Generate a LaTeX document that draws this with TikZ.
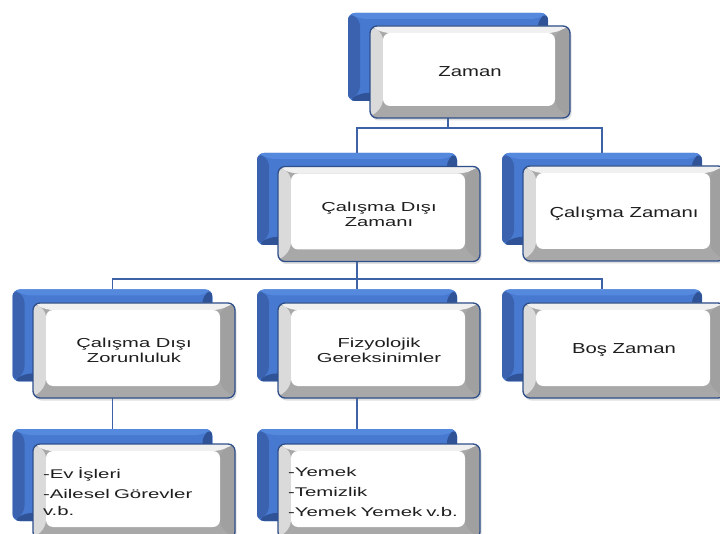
\documentclass[tikz,border=0pt]{standalone}
\usepackage{fontspec}
\setmainfont{Liberation Sans}
\newfontfamily\lblA[FakeStretch=1.4]{Liberation Sans}
\newfontfamily\lblB[FakeStretch=1.55]{Liberation Sans}
\newfontfamily\lblC[FakeStretch=1.62]{Liberation Sans}
\usetikzlibrary{backgrounds,calc,shadows}
\definecolor{bord}{HTML}{2F4F8A}
\definecolor{conncol}{HTML}{3D62A6}
\definecolor{bluemain}{HTML}{4779D0}
\definecolor{bluetop}{HTML}{5589DD}
\definecolor{blueleft}{HTML}{3A62AE}
\definecolor{bluedark}{HTML}{2F5396}
\definecolor{bevtop}{HTML}{F0F0F0}
\definecolor{bevleft}{HTML}{DADADA}
\definecolor{bevright}{HTML}{A0A0A0}
\definecolor{bevbot}{HTML}{A8A8A8}
\definecolor{txt}{HTML}{1E1E1E}
\tikzset{
  backbox/.style={rounded corners=7pt, fill=bluemain, minimum width=200pt,
    minimum height=92pt, inner sep=0pt, draw=none,
    path picture={
      \coordinate (sw) at (path picture bounding box.south west);
      \coordinate (ne) at (path picture bounding box.north east);
      \coordinate (nw) at (sw|-ne);
      \coordinate (se) at (ne|-sw);
      \fill[blueleft] (sw) -- (nw) -- ($(nw)+(12pt,-6pt)$) -- ($(sw)+(12pt,8pt)$) -- cycle;
      \fill[bluetop] (nw) -- (ne) -- ($(ne)+(-10pt,-6pt)$) -- ($(nw)+(12pt,-6pt)$) -- cycle;
      \fill[bluedark] (ne) -- (se) -- ($(se)+(-10pt,8pt)$) -- ($(ne)+(-10pt,-6pt)$) -- cycle;
      \fill[bluedark] (sw) -- (se) -- ($(se)+(-10pt,8pt)$) -- ($(sw)+(12pt,8pt)$) -- cycle;
    }},
  frontbox/.style={rounded corners=7pt, draw=bord, line width=1.3pt, fill=bevbot,
    minimum width=202pt, minimum height=95pt, inner sep=0pt, text=txt,
    drop shadow={shadow xshift=1.5pt, shadow yshift=-2.5pt, opacity=0.25},
    path picture={
      \coordinate (sw) at (path picture bounding box.south west);
      \coordinate (ne) at (path picture bounding box.north east);
      \coordinate (nw) at (sw|-ne);
      \coordinate (se) at (ne|-sw);
      \fill[bevleft] (sw) -- (nw) -- ($(nw)+(13pt,-7pt)$) -- ($(sw)+(13pt,12pt)$) -- cycle;
      \fill[bevtop] (nw) -- (ne) -- ($(ne)+(-15pt,-7pt)$) -- ($(nw)+(13pt,-7pt)$) -- cycle;
      \fill[bevright] (ne) -- (se) -- ($(se)+(-15pt,12pt)$) -- ($(ne)+(-15pt,-7pt)$) -- cycle;
      \fill[white] ($(sw)+(13pt,12pt)$) rectangle ($(ne)+(-15pt,-7pt)$);
    }},
  oneline/.style={font=\lblA\fontsize{14.5}{16}\selectfont},
  twoline/.style={font=\lblB\fontsize{13}{15}\selectfont, align=center},
  listtext/.style={font=\lblC\fontsize{12.6}{17}\selectfont, align=left, text width=182pt},
  conn/.style={draw=conncol, line width=1.8pt}
}
\begin{document}
\begin{tikzpicture}[x=1pt,y=-1pt]
\useasboundingbox (0,0) rectangle (720,534);
% back boxes
\node[backbox, minimum height=88pt] (zamanB) at (448,57) {};
\node[backbox] (cdzB) at (357,199) {};
\node[backbox] (czB) at (602,199) {};
\node[backbox] (zorB) at (112.5,335.5) {};
\node[backbox] (fizB) at (357,335.5) {};
\node[backbox] (bosB) at (602,335.5) {};
\node[backbox] (evB) at (112.5,475) {};
\node[backbox] (yemB) at (357,475) {};
% front boxes
\node[frontbox, oneline, minimum width=200pt, minimum height=92pt] (zaman) at (470,72) {Zaman};
\node[frontbox, twoline] (cdz) at (379,214) {Çalışma Dışı\\Zamanı};
\node[frontbox, oneline] (cz) at (624,213.5) {Çalışma Zamanı};
\node[frontbox, twoline] (zor) at (134,350.5) {Çalışma Dışı\\Zorunluluk};
\node[frontbox, twoline] (fiz) at (379,350.5) {Fizyolojik\\Gereksinimler};
\node[frontbox, oneline] (bos) at (624,350.5) {Boş Zaman};
\node[frontbox, listtext] (ev) at (134,491.5) {-Ev İşleri\\[3pt]-Ailesel Görevler\\v.b.};
\node[frontbox, listtext] (yem) at (379,491.5) {-Yemek\\[3pt]-Temizlik\\[3pt]-Yemek Yemek v.b.};
\coordinate (bus1) at (0,128);
\coordinate (bus2) at (0,279);
\begin{scope}[on background layer]
\fill[white] (0,0) rectangle (720,534);
\draw[conn] (zamanB.south) -- (zamanB.south |- bus1) -| (cdzB.north);
\draw[conn] (zamanB.south |- bus1) -| (czB.north);
\draw[conn] (cdzB.south) -- (cdzB.south |- bus2) -| (zorB.north);
\draw[conn] (cdzB.south |- bus2) -- (fizB.north);
\draw[conn] (cdzB.south |- bus2) -| (bosB.north);
\draw[conn] (zorB.south) -- (evB.north);
\draw[conn] (fizB.south) -- (yemB.north);
\end{scope}
\end{tikzpicture}
\end{document}
